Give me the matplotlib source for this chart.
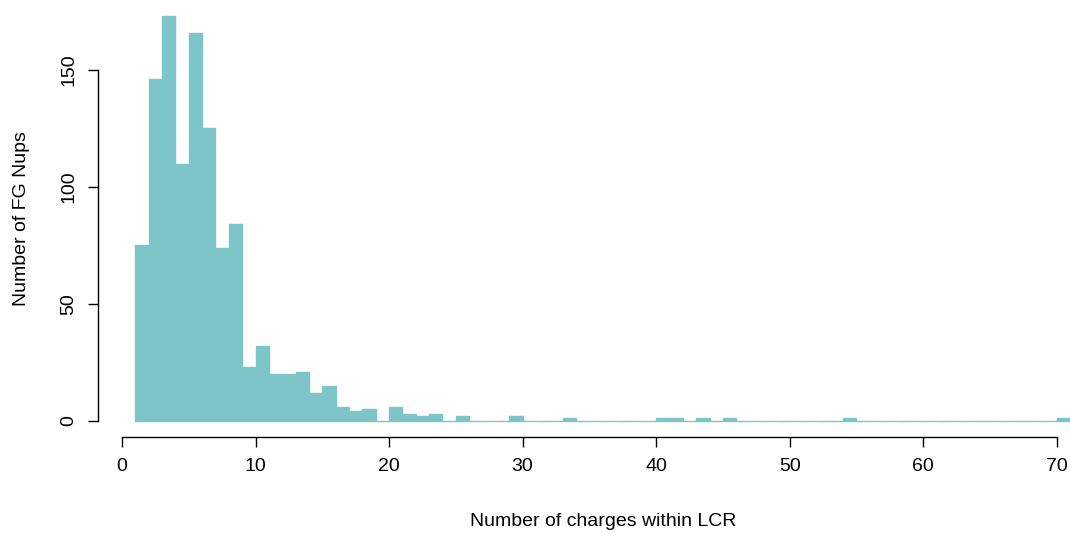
import matplotlib
matplotlib.use("Agg")
import numpy as np
import matplotlib.pyplot as plt

plt.rcParams['font.family'] = ['Liberation Sans', 'DejaVu Sans']

# bins of width 1 starting at 1 (counts per bin)
bin_left = np.arange(1, 71)
counts = [75, 146, 173, 110, 166, 125, 74, 84, 23, 32,
          20, 20, 21, 12, 15, 6, 4, 5, 0, 6,
          3, 2, 3, 0, 2, 0, 0, 0, 2, 0,
          0, 0, 1, 0, 0, 0, 0, 0, 0, 1,
          1, 0, 1, 0, 1, 0, 0, 0, 0, 0,
          0, 0, 0, 1, 0, 0, 0, 0, 0, 0,
          0, 0, 0, 0, 0, 0, 0, 0, 0, 1]

fig = plt.figure(figsize=(10.7, 5.34), dpi=100)
ax = fig.add_axes([98 / 1070, 97 / 534, 1 - 98 / 1070, 1 - 97 / 534])

ax.bar(bin_left, counts, width=1, align='edge', color='#7DC5C9',
       edgecolor='#7DC5C9', linewidth=1.0)

ax.set_xlim(-1.8, 71.0)
ax.set_ylim(-6.92, 179.9)

# R-like axes
for s in ['top', 'right']:
    ax.spines[s].set_visible(False)
ax.spines['left'].set_bounds(0, 150)
ax.spines['bottom'].set_bounds(0, 70)
ax.spines['left'].set_linewidth(1.0)
ax.spines['bottom'].set_linewidth(1.0)

ax.set_xticks(np.arange(0, 71, 10))
ax.set_yticks([0, 50, 100, 150])
ax.tick_params(direction='out', length=7, width=1, labelsize=14, pad=8)
for lab in ax.get_yticklabels():
    lab.set_rotation(90)
    lab.set_va('center')

ax.set_xlabel('Number of charges within LCR', fontsize=14)
ax.set_ylabel('Number of FG Nups', fontsize=14)
ax.xaxis.set_label_coords(0.5195, -0.175)
ax.yaxis.set_label_coords(-0.0695, 0.5)

fig.savefig('out.png', dpi=100)
